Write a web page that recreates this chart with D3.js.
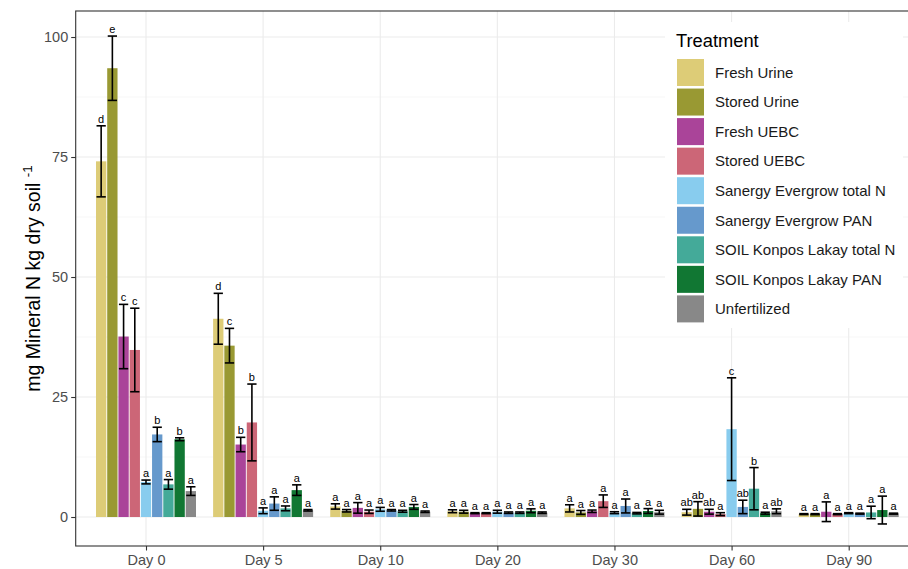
<!DOCTYPE html>
<html>
<head>
<meta charset="utf-8">
<script src="https://cdn.jsdelivr.net/npm/d3@7"></script>
<style>
  body { margin: 0; background: #fff; }
  svg { display: block; font-family: "Liberation Sans", Arial, sans-serif; }
</style>
</head>
<body>
<div id="chart"></div>
<script>
// sampling days and treatments
var days = ["Day 0", "Day 5", "Day 10", "Day 20", "Day 30", "Day 60", "Day 90"];
var treatments = ["Fresh Urine", "Stored Urine", "Fresh UEBC", "Stored UEBC",
    "Sanergy Evergrow total N", "Sanergy Evergrow PAN",
    "SOIL Konpos Lakay total N", "SOIL Konpos Lakay PAN", "Unfertilized"];
var colours = ["#DDCC77", "#999933", "#AA4499", "#CC6677", "#88CCEE",
    "#6699CC", "#44AA99", "#117733", "#888888"];

// mean mineral N, one row per day, in treatment order
var means = [
    [74.1, 93.5, 37.6, 34.8, 7.3, 17.2, 6.8, 16.2, 5.4],
    [41.3, 35.7, 15.1, 19.7, 1.3, 2.8, 1.8, 5.6, 1.4],
    [2.2, 1.3, 1.9, 1.1, 1.6, 1.4, 1.2, 2.1, 1.1],
    [1.2, 1.1, 0.8, 0.8, 1.1, 0.9, 0.9, 1.3, 0.9],
    [1.8, 0.95, 1.2, 3.3, 0.9, 2.3, 0.8, 1.25, 1.0],
    [1.0, 1.7, 1.1, 0.6, 18.3, 2.1, 5.9, 0.8, 1.2],
    [0.6, 0.6, 1.1, 0.6, 0.8, 0.7, 0.95, 1.45, 0.7]
];
// standard errors
var errors = [
    [7.4, 6.7, 6.7, 8.7, 0.4, 1.5, 1.0, 0.3, 0.9],
    [5.3, 3.6, 1.5, 8.0, 0.6, 1.4, 0.5, 1.1, 0.15],
    [0.55, 0.25, 1.1, 0.35, 0.4, 0.15, 0.2, 0.5, 0.15],
    [0.3, 0.3, 0.1, 0.1, 0.3, 0.15, 0.15, 0.4, 0.15],
    [0.75, 0.4, 0.25, 1.3, 0.2, 1.45, 0.15, 0.5, 0.4],
    [0.6, 1.5, 0.5, 0.3, 10.7, 1.4, 4.4, 0.2, 0.5],
    [0.1, 0.1, 2.05, 0.1, 0.1, 0.1, 1.3, 2.9, 0.1]
];
// significance letters
var letters = [
    ["d", "e", "c", "c", "a", "b", "a", "b", "a"],
    ["d", "c", "b", "b", "a", "a", "a", "a", "a"],
    ["a", "a", "a", "a", "a", "a", "a", "a", "a"],
    ["a", "a", "a", "a", "a", "a", "a", "a", "a"],
    ["a", "a", "a", "a", "a", "a", "a", "a", "a"],
    ["ab", "ab", "ab", "a", "c", "ab", "b", "a", "ab"],
    ["a", "a", "a", "a", "a", "a", "a", "a", "a"]
];
var yTicks = [0, 25, 50, 75, 100];

var width = 908, height = 569;
var panel = { left: 75.7, right: 919, top: 11, bottom: 546 };

var data = [];
days.forEach(function (d, i) {
    treatments.forEach(function (t, j) {
        data.push({ day: d, treatment: t, mean: means[i][j], se: errors[i][j], letter: letters[i][j] });
    });
});

var x = d3.scalePoint().domain(days).range([146, 848.7]);
var xInner = d3.scaleBand().domain(treatments).range([-50, 50]).paddingInner(0.08);
var y = d3.scaleLinear().domain([-6.04, 105.42]).range([panel.bottom, panel.top]);
var color = d3.scaleOrdinal().domain(treatments).range(colours);

var svg = d3.select("#chart").append("svg")
    .attr("width", width)
    .attr("height", height);

// grid
var grid = svg.append("g");
grid.selectAll(".minor")
    .data([12.5, 37.5, 62.5, 87.5])
    .join("line")
    .attr("x1", panel.left).attr("x2", panel.right)
    .attr("y1", function (d) { return y(d); }).attr("y2", function (d) { return y(d); })
    .attr("stroke", "#f2f2f2").attr("stroke-width", 0.6);
grid.selectAll(".majory")
    .data(yTicks)
    .join("line")
    .attr("x1", panel.left).attr("x2", panel.right)
    .attr("y1", function (d) { return y(d); }).attr("y2", function (d) { return y(d); })
    .attr("stroke", "#ebebeb").attr("stroke-width", 1.1);
grid.selectAll(".majorx")
    .data(days)
    .join("line")
    .attr("x1", function (d) { return x(d); }).attr("x2", function (d) { return x(d); })
    .attr("y1", panel.top).attr("y2", panel.bottom)
    .attr("stroke", "#ebebeb").attr("stroke-width", 1.1);

// bars
var bw = xInner.bandwidth();
svg.append("g").selectAll("rect")
    .data(data)
    .join("rect")
    .attr("x", function (d) { return x(d.day) + xInner(d.treatment); })
    .attr("width", bw)
    .attr("y", function (d) { return y(d.mean); })
    .attr("height", function (d) { return y(0) - y(d.mean); })
    .attr("fill", function (d) { return color(d.treatment); });

// error bars
var eb = svg.append("g").attr("stroke", "#000").attr("stroke-width", 1.6);
data.forEach(function (d) {
    var cx = x(d.day) + xInner(d.treatment) + bw / 2;
    var capw = bw * 0.45;
    var y1 = y(d.mean + d.se), y0 = y(d.mean - d.se);
    eb.append("line").attr("x1", cx).attr("x2", cx).attr("y1", y1).attr("y2", y0);
    eb.append("line").attr("x1", cx - capw).attr("x2", cx + capw).attr("y1", y1).attr("y2", y1);
    eb.append("line").attr("x1", cx - capw).attr("x2", cx + capw).attr("y1", y0).attr("y2", y0);
});

// letters
svg.append("g").selectAll("text")
    .data(data)
    .join("text")
    .attr("x", function (d) { return x(d.day) + xInner(d.treatment) + bw / 2; })
    .attr("y", function (d) { return y(d.mean + d.se) - 3; })
    .attr("text-anchor", "middle")
    .attr("font-size", 11)
    .attr("fill", "#000")
    .text(function (d) { return d.letter; });

// panel border
svg.append("rect")
    .attr("x", panel.left).attr("y", panel.top)
    .attr("width", panel.right - panel.left).attr("height", panel.bottom - panel.top)
    .attr("fill", "none").attr("stroke", "#333").attr("stroke-width", 1.1);

// axes
var yAxis = svg.append("g")
    .attr("transform", "translate(" + panel.left + ",0)")
    .call(d3.axisLeft(y).tickValues(yTicks).tickSize(4.5).tickPadding(3));
var xAxis = svg.append("g")
    .attr("transform", "translate(0," + panel.bottom + ")")
    .call(d3.axisBottom(x).tickSize(4.5).tickPadding(4));
[yAxis, xAxis].forEach(function (a) {
    a.select(".domain").remove();
    a.selectAll(".tick line").attr("stroke", "#333").attr("stroke-width", 1.1);
    a.selectAll(".tick text").attr("fill", "#4d4d4d").attr("font-size", 14.5)
        .attr("font-family", "Liberation Sans, Arial, sans-serif");
});

// y title
var yt = svg.append("text")
    .attr("transform", "translate(40," + ((panel.top + panel.bottom) / 2) + ") rotate(-90)")
    .attr("text-anchor", "middle")
    .attr("font-size", 19.5)
    .attr("fill", "#000");
yt.append("tspan").text("mg Mineral N kg dry soil ");
yt.append("tspan").attr("font-size", 13.5).attr("dy", -8).text("-1");

// legend
var lg = svg.append("g");
lg.append("rect")
    .attr("x", 665).attr("y", 22).attr("width", 238).attr("height", 306)
    .attr("fill", "#fff");
lg.append("text")
    .attr("x", 676).attr("y", 47)
    .attr("font-size", 18.3)
    .attr("fill", "#000")
    .text("Treatment");
var items = lg.selectAll(".item")
    .data(treatments)
    .join("g")
    .attr("transform", function (d, i) { return "translate(677," + (59 + i * 29.55) + ")"; });
items.append("rect")
    .attr("width", 27).attr("height", 27)
    .attr("fill", function (d) { return color(d); });
items.append("text")
    .attr("x", 38).attr("y", 13.5)
    .attr("dy", "0.35em")
    .attr("font-size", 15)
    .attr("fill", "#1a1a1a")
    .text(function (d) { return d; });
</script>
</body>
</html>
